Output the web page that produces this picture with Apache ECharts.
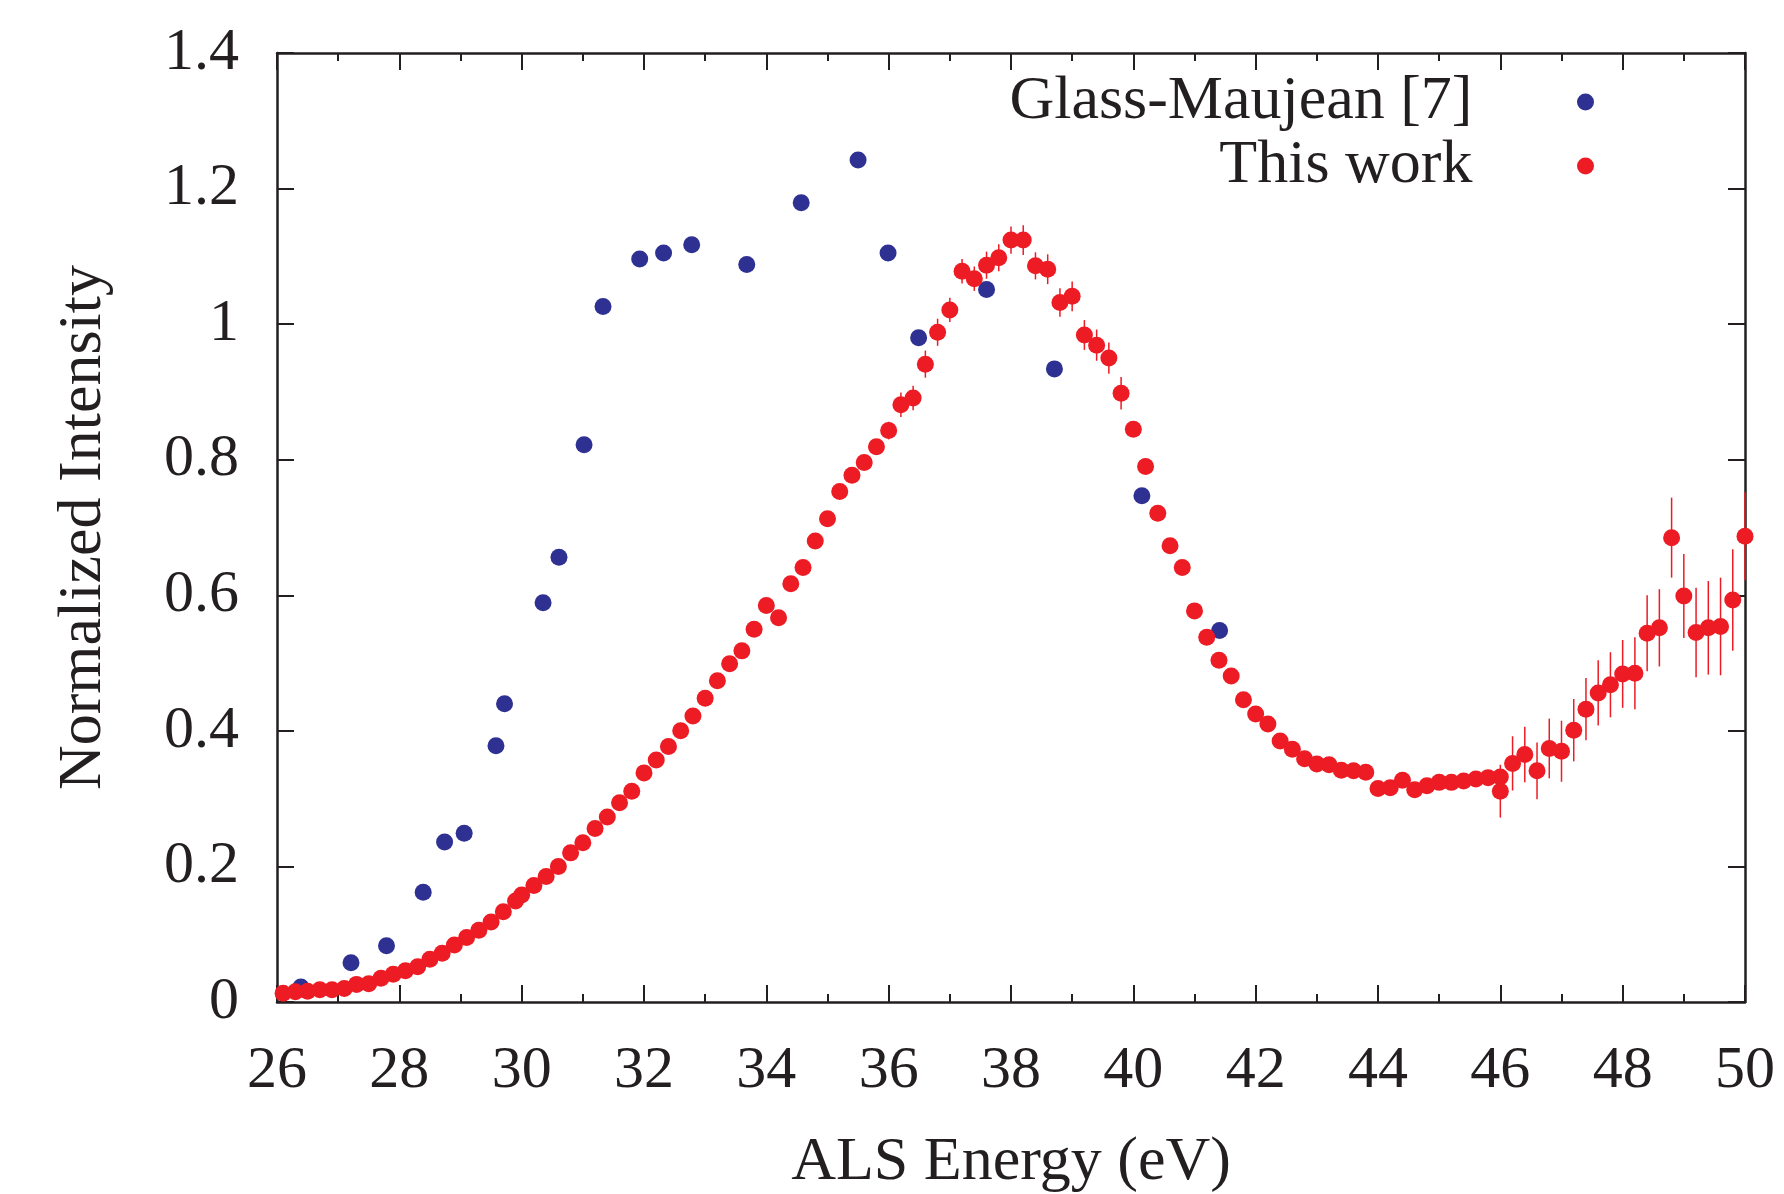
<!DOCTYPE html>
<html>
<head>
<meta charset="utf-8">
<script src="https://cdn.jsdelivr.net/npm/echarts/dist/echarts.min.js"></script>
<style>
  html, body { margin: 0; padding: 0; background: #ffffff; }
  #chart { width: 1784px; height: 1194px; }
</style>
</head>
<body>
<div id="chart"></div>
<script>
// ---- Data ----
const glassEnergy = [26.39, 27.21, 27.79, 28.39, 28.74, 29.06, 29.58, 29.72, 30.35, 30.61,
  31.02, 31.33, 31.93, 32.32, 32.78, 33.68, 34.57, 35.50, 35.99, 36.49, 37.60, 38.71, 40.14, 41.41];
const glassIntensity = [0.022, 0.058, 0.083, 0.162, 0.236, 0.249, 0.378, 0.440, 0.589, 0.656,
  0.822, 1.026, 1.096, 1.105, 1.117, 1.088, 1.179, 1.242, 1.105, 0.980, 1.051, 0.934, 0.747, 0.548];

const workEnergy = [
  26.1, 26.3, 26.5, 26.7, 26.9, 27.1, 27.3, 27.5, 27.7, 27.9,
  28.1, 28.3, 28.5, 28.7, 28.9, 29.1, 29.3, 29.5, 29.7, 29.9,
  30.0, 30.2, 30.4, 30.6, 30.8, 31.0, 31.2, 31.4, 31.6, 31.8,
  32.0, 32.2, 32.4, 32.6, 32.8, 33.0, 33.2, 33.4, 33.6, 33.8,
  34.0, 34.2, 34.4, 34.6, 34.8, 35.0, 35.2, 35.4, 35.6, 35.8,
  36.0, 36.2, 36.4, 36.6, 36.8, 37.0, 37.2, 37.4, 37.6, 37.8,
  38.0, 38.2, 38.4, 38.6, 38.8, 39.0, 39.2, 39.4, 39.6, 39.8,
  40.0, 40.2, 40.4, 40.6, 40.8, 41.0, 41.2, 41.4, 41.6, 41.8,
  42.0, 42.2, 42.4, 42.6, 42.8, 43.0, 43.2, 43.4, 43.6, 43.8,
  44.0, 44.2, 44.4, 44.6, 44.8, 45.0, 45.2, 45.4, 45.6, 45.8,
  46.0,
  46.0, 46.2, 46.4, 46.6, 46.8, 47.0, 47.2, 47.4, 47.6, 47.8,
  48.0, 48.2, 48.4, 48.6, 48.8, 49.0, 49.2, 49.4, 49.6, 49.8,
  50.0
];
const workIntensity = [
  0.013, 0.015, 0.016, 0.018, 0.018, 0.020, 0.026, 0.027, 0.035, 0.041,
  0.046, 0.052, 0.063, 0.072, 0.084, 0.095, 0.106, 0.118, 0.133, 0.149,
  0.158, 0.172, 0.185, 0.200, 0.220, 0.235, 0.256, 0.273, 0.294, 0.311,
  0.338, 0.357, 0.377, 0.400, 0.422, 0.448, 0.474, 0.499, 0.518, 0.550,
  0.585, 0.567, 0.617, 0.641, 0.680, 0.713, 0.753, 0.777, 0.796, 0.819,
  0.843, 0.881, 0.891, 0.941, 0.988, 1.021, 1.078, 1.067, 1.087, 1.098,
  1.124, 1.124, 1.086, 1.081, 1.032, 1.041, 0.984, 0.969, 0.950, 0.898,
  0.845, 0.790, 0.721, 0.673, 0.641, 0.577, 0.538, 0.504, 0.481, 0.446,
  0.425, 0.410, 0.385, 0.373, 0.359, 0.351, 0.350, 0.342, 0.341, 0.339,
  0.315, 0.316, 0.327, 0.313, 0.319, 0.324, 0.324, 0.326, 0.329, 0.331,
  0.332,
  0.311, 0.352, 0.365, 0.341, 0.374, 0.370, 0.401, 0.432, 0.456, 0.468,
  0.484, 0.485, 0.544, 0.552, 0.685, 0.599, 0.545, 0.552, 0.554, 0.593,
  0.687
];
const workError = [
  0, 0, 0, 0, 0, 0, 0, 0, 0, 0,
  0, 0, 0, 0, 0, 0, 0, 0, 0, 0,
  0, 0, 0, 0, 0, 0, 0, 0, 0, 0,
  0, 0, 0, 0, 0, 0, 0, 0, 0, 0,
  0, 0, 0, 0, 0, 0, 0, 0, 0, 0,
  0.013, 0.018, 0.018, 0.020, 0.020, 0.018, 0.018, 0.018, 0.020, 0.020,
  0.020, 0.022, 0.020, 0.022, 0.021, 0.022, 0.022, 0.023, 0.023, 0.024,
  0, 0, 0, 0, 0, 0, 0, 0, 0, 0,
  0, 0, 0, 0, 0, 0, 0, 0, 0, 0,
  0, 0, 0, 0, 0, 0, 0, 0, 0, 0,
  0,
  0.039, 0.040, 0.041, 0.042, 0.044, 0.045, 0.046, 0.046, 0.048, 0.048,
  0.050, 0.053, 0.056, 0.057, 0.059, 0.062, 0.066, 0.069, 0.072, 0.075,
  0.065
];

const xTickLabels = ['26', '28', '30', '32', '34', '36', '38', '40', '42', '44', '46', '48', '50'];
const yTickLabels = ['0', '0.2', '0.4', '0.6', '0.8', '1', '1.2', '1.4'];
const seriesNames = ['Glass-Maujean [7]', 'This work'];

// ---- Build the chart ----
const FONT = '"Liberation Serif", "DejaVu Serif", serif';
const INK = '#231f20';
const RED = '#ed1c24';
const BLUE = '#2e3192';

const glassData = glassEnergy.map((e, i) => [e, glassIntensity[i]]);
const workData = workEnergy.map((e, i) => [e, workIntensity[i]]);
const errData = [];
workEnergy.forEach((e, i) => {
  if (workError[i] > 0) errData.push([e, workIntensity[i] - workError[i], workIntensity[i] + workError[i]]);
});

function yLabel(v) {
  const idx = Math.round(v / 0.2);
  return yTickLabels[idx] !== undefined ? yTickLabels[idx] : '';
}
function xLabel(v) {
  const idx = Math.round((v - 26) / 2);
  return xTickLabels[idx] !== undefined ? xTickLabels[idx] : '';
}

const tickCommon = {
  axisLine: { show: true, onZero: false, lineStyle: { color: INK, width: 2.5 } },
  axisTick: { show: true, inside: true, length: 17, lineStyle: { color: INK, width: 2 } },
  splitLine: { show: false }
};

const chart = echarts.init(document.getElementById('chart'), null, { renderer: 'canvas' });
chart.setOption({
  animation: false,
  backgroundColor: '#ffffff',
  textStyle: { fontFamily: FONT },
  grid: { left: 277, right: 39, top: 53, bottom: 192, containLabel: false, outerBoundsMode: 'none' },
  legend: {
    orient: 'vertical',
    align: 'right',
    right: 190,
    top: 71,
    padding: 0,
    itemWidth: 216,
    itemHeight: 17,
    itemGap: 2,
    data: seriesNames,
    textStyle: { fontFamily: FONT, fontSize: 62, color: INK, lineHeight: 56 },
    selectedMode: false
  },
  xAxis: [
    Object.assign({
      type: 'value', min: 26, max: 50, interval: 2, position: 'bottom',
      name: 'ALS Energy (eV)', nameLocation: 'middle', nameGap: 130,
      nameTextStyle: { fontFamily: FONT, fontSize: 62, color: INK },
      axisLabel: { show: true, margin: 39, fontFamily: FONT, fontSize: 60, color: INK, formatter: xLabel },
      minorTick: { show: true, splitNumber: 2, length: 8, lineStyle: { color: INK, width: 2 } }
    }, tickCommon),
    Object.assign({
      type: 'value', min: 26, max: 50, interval: 2, position: 'top',
      axisLabel: { show: false },
      minorTick: { show: true, splitNumber: 2, length: 8, lineStyle: { color: INK, width: 2 } }
    }, tickCommon)
  ],
  yAxis: [
    Object.assign({
      type: 'value', min: 0, max: 1.4, interval: 0.2, position: 'left',
      name: 'Normalized Intensity', nameLocation: 'middle', nameGap: 162, nameRotate: 90,
      nameTextStyle: { fontFamily: FONT, fontSize: 62, color: INK },
      axisLabel: { show: true, margin: 38, fontFamily: FONT, fontSize: 60, color: INK, formatter: yLabel }
    }, tickCommon),
    Object.assign({
      type: 'value', min: 0, max: 1.4, interval: 0.2, position: 'right',
      axisLabel: { show: false }
    }, tickCommon)
  ],
  series: [
    {
      name: seriesNames[0],
      type: 'scatter',
      xAxisIndex: 0, yAxisIndex: 0,
      symbol: 'circle',
      symbolSize: 17,
      itemStyle: { color: BLUE, opacity: 1 },
      data: glassData,
      z: 2
    },
    {
      name: 'errors',
      type: 'custom',
      xAxisIndex: 0, yAxisIndex: 0,
      encode: { x: 0, y: [1, 2] },
      renderItem: function (params, api) {
        const x = api.value(0);
        const p1 = api.coord([x, api.value(1)]);
        const p2 = api.coord([x, api.value(2)]);
        return {
          type: 'line',
          shape: { x1: p1[0], y1: p1[1], x2: p2[0], y2: p2[1] },
          style: { stroke: RED, lineWidth: 1.5 }
        };
      },
      data: errData,
      z: 3
    },
    {
      name: seriesNames[1],
      type: 'scatter',
      xAxisIndex: 0, yAxisIndex: 0,
      symbol: 'circle',
      symbolSize: 17,
      itemStyle: { color: RED, opacity: 1 },
      data: workData,
      z: 4
    }
  ]
});
</script>
</body>
</html>
